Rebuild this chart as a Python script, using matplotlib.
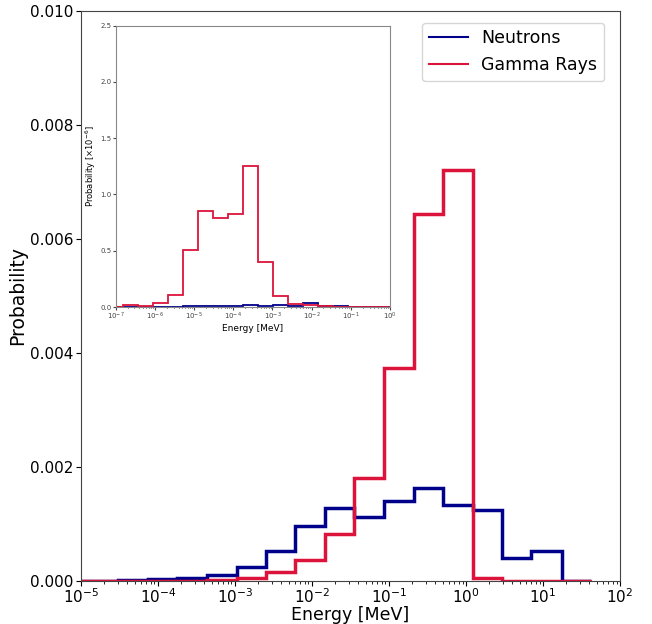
import numpy as np
import matplotlib
matplotlib.use("Agg")
import matplotlib.pyplot as plt
from matplotlib.lines import Line2D

# bin edges, as log10(E / MeV)
edge_exp = [-7.20, -6.82, -6.43, -6.05, -5.67, -5.28, -4.90, -4.52, -4.13, -3.75,
            -3.37, -2.98, -2.60, -2.22, -1.83, -1.45, -1.06, -0.68, -0.30, 0.09,
            0.47, 0.85, 1.24, 1.62]

# main spectrum
neutrons = [0, 0, 0, 0, 0, 0, 0, 1e-5, 3e-5, 5e-5,
            1.0e-4, 2.5e-4, 5.2e-4, 9.7e-4, 1.28e-3, 1.13e-3, 1.41e-3, 1.63e-3, 1.34e-3, 1.24e-3,
            4.1e-4, 5.3e-4, 0]
gammas = [0, 0, 0, 0, 0, 0, 0, 0, 0, 0,
          2e-5, 6e-5, 1.6e-4, 3.7e-4, 8.3e-4, 1.80e-3, 3.74e-3, 6.44e-3, 7.21e-3, 5e-5,
          0, 0, 0]

# inset (x 1e-6)
neutrons_inset = [0, 0, 0, 0, 0.002, 0.005, 0.010, 0.012, 0.010, 0.020,
                  0.005, 0.018, 0.010, 0.035, 0.012, 0.005, 0.004, 0.003, 0, 0,
                  0, 0, 0]
gammas_inset = [0.003, 0.015, 0.005, 0.04, 0.11, 0.51, 0.85, 0.79, 0.83, 1.25,
                0.40, 0.10, 0.027, 0.018, 0.005, 0.004, 0.003, 0.002, 0.001, 0,
                0, 0, 0]

edges = 10.0 ** np.array(edge_exp)
c_n = "#00008b"
c_g = "#dc143c"

fig = plt.figure(figsize=(6.52, 6.24), dpi=100)
ax = fig.add_axes([0.1242, 0.0689, 0.8268, 0.9135])
ax.stairs(neutrons, edges, color=c_n, lw=2.5)
ax.stairs(gammas, edges, color=c_g, lw=2.5)
ax.set_xscale("log")
ax.set_xlim(1e-5, 1e2)
ax.set_ylim(0, 0.010)
ax.set_yticks([0, 0.002, 0.004, 0.006, 0.008, 0.010])
ax.set_yticklabels(["%.3f" % v for v in [0, 0.002, 0.004, 0.006, 0.008, 0.010]])
ax.tick_params(labelsize=11, pad=2)
ax.tick_params(axis="x", pad=1)
for s in ax.spines.values():
    s.set_color("#444444")
ax.set_xlabel("Energy [MeV]", fontsize=12.5, labelpad=0)
ax.set_ylabel("Probability", fontsize=13.5, labelpad=2)

handles = [Line2D([], [], color=c_n, lw=1.5), Line2D([], [], color=c_g, lw=1.5)]
ax.legend(handles, ["Neutrons", "Gamma Rays"], loc="upper right", fontsize=12.5,
          bbox_to_anchor=(0.987, 0.995), handlelength=2.2)

ins = fig.add_axes([0.1775, 0.508, 0.4207, 0.4508])
ins.stairs(neutrons_inset, edges, color=c_n, lw=1.3)
ins.stairs(gammas_inset, edges, color=c_g, lw=1.3)
ins.set_xscale("log")
ins.set_xlim(1e-7, 1e0)
ins.set_ylim(0, 2.5)
ins.set_xticks([1e-7, 1e-6, 1e-5, 1e-4, 1e-3, 1e-2, 1e-1, 1e0])
ins.tick_params(labelsize=5, length=2, pad=1, colors="#444444")
ins.tick_params(which="minor", length=1)
ins.set_xlabel("Energy [MeV]", fontsize=6.5, labelpad=1)
ins.set_ylabel(r"Probability [$\times 10^{-6}$]", fontsize=6, labelpad=2)
for s in ins.spines.values():
    s.set_color("#888888")

fig.savefig("out.png", dpi=100)
